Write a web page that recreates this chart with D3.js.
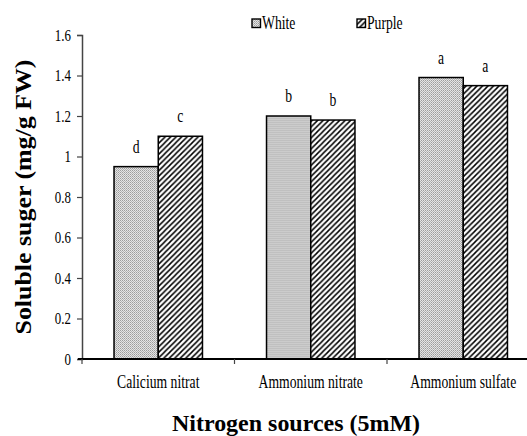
<!DOCTYPE html>
<html>
<head>
<meta charset="utf-8">
<script src="https://cdn.jsdelivr.net/npm/d3@7"></script>
<style>
  body { margin: 0; background: #fff; }
  text { font-family: "Liberation Serif", "Times New Roman", serif; fill: #000; }
</style>
</head>
<body>
<script>
//chart data
var categories = ["Calicium nitrat", "Ammonium nitrate", "Ammonium sulfate"];
var series = ["White", "Purple"];
var whiteValues = [0.95, 1.20, 1.39];
var purpleValues = [1.10, 1.18, 1.35];
var whiteLetters = ["d", "b", "a"];
var purpleLetters = ["c", "b", "a"];
var yTicks = [0, 0.2, 0.4, 0.6, 0.8, 1, 1.2, 1.4, 1.6];

window.onload = drawChart();

function drawChart(){

    var width = 527,
        height = 436,
        squeeze = 0.76; //narrow look of the original serif text

    var svg = d3.select("body")
        .append("svg")
        .attr("width", width)
        .attr("height", height);

    //patterns for the two series
    var defs = svg.append("defs");
    var dots = defs.append("pattern")
        .attr("id", "dots")
        .attr("patternUnits", "userSpaceOnUse")
        .attr("width", 2)
        .attr("height", 2);
    dots.append("rect").attr("width", 2).attr("height", 2).attr("fill", "#e4e4e4");
    dots.append("rect").attr("width", 1).attr("height", 1).attr("fill", "#9c9c9c");
    dots.append("rect").attr("x", 1).attr("y", 1).attr("width", 1).attr("height", 1).attr("fill", "#b4b4b4");

    var hatch = defs.append("pattern")
        .attr("id", "hatch")
        .attr("patternUnits", "userSpaceOnUse")
        .attr("width", 5.5)
        .attr("height", 5.5);
    hatch.append("rect").attr("width", 5.5).attr("height", 5.5).attr("fill", "#fff");
    hatch.append("path")
        .attr("d", "M0,5.5 L5.5,0 M-1,1 L1,-1 M4.5,6.5 L6.5,4.5")
        .attr("stroke", "#000")
        .attr("stroke-width", 1.5);

    var fills = {White: "url(#dots)", Purple: "url(#hatch)"};

    //scales
    var x0 = d3.scaleBand()
        .domain(categories)
        .range([82, 539.5]);

    var x1 = d3.scaleBand()
        .domain(series)
        .range([x0.bandwidth() * 0.21, x0.bandwidth() * 0.79]);

    var y = d3.scaleLinear()
        .domain([0, 1.6])
        .range([359, 35]);

    //y axis
    var yAxis = svg.append("g")
        .attr("transform", "translate(82,0)")
        .call(d3.axisLeft(y).tickValues(yTicks).tickSize(5).tickPadding(6)
            .tickFormat(function(d){ return String(d); }));
    yAxis.attr("font-family", null);
    yAxis.select(".domain").attr("stroke", "#444").attr("stroke-width", 1.5);
    yAxis.selectAll(".tick line").attr("stroke", "#444").attr("stroke-width", 1.2);
    yAxis.selectAll(".tick text")
        .attr("font-size", 17)
        .attr("fill", "#222")
        .attr("x", -11 / squeeze)
        .attr("transform", "scale(" + squeeze + ",1)");

    //bars
    var rows = categories.map(function(c, i){
        return [
            {cat: c, key: "White", value: whiteValues[i], letter: whiteLetters[i]},
            {cat: c, key: "Purple", value: purpleValues[i], letter: purpleLetters[i]}
        ];
    });

    var groups = svg.selectAll(".cat")
        .data(rows)
        .enter()
        .append("g")
        .attr("class", "cat")
        .attr("transform", function(d){ return "translate(" + x0(d[0].cat) + ",0)"; });

    groups.selectAll("rect")
        .data(function(d){ return d; })
        .enter()
        .append("rect")
        .attr("x", function(d){ return x1(d.key); })
        .attr("y", function(d){ return y(d.value); })
        .attr("width", x1.bandwidth())
        .attr("height", function(d){ return y(0) - y(d.value); })
        .attr("fill", function(d){ return fills[d.key]; })
        .attr("stroke", "#000")
        .attr("stroke-width", 1.5);

    //significance letters
    groups.selectAll(".letter")
        .data(function(d){ return d; })
        .enter()
        .append("text")
        .attr("class", "letter")
        .attr("font-size", 18)
        .attr("text-anchor", "middle")
        .attr("transform", function(d){
            return "translate(" + (x1(d.key) + x1.bandwidth() / 2) + "," + (y(d.value) - 14) + ") scale(" + squeeze + ",1)";
        })
        .text(function(d){ return d.letter; });

    //x axis line and ticks
    svg.append("line")
        .attr("x1", 78).attr("x2", width)
        .attr("y1", y(0)).attr("y2", y(0))
        .attr("stroke", "#000")
        .attr("stroke-width", 2);

    svg.selectAll(".xtick")
        .data(categories)
        .enter()
        .append("line")
        .attr("class", "xtick")
        .attr("x1", function(d){ return x0(d); })
        .attr("x2", function(d){ return x0(d); })
        .attr("y1", y(0))
        .attr("y2", y(0) + 5)
        .attr("stroke", "#444")
        .attr("stroke-width", 1.2);

    svg.selectAll(".xlabel")
        .data(categories)
        .enter()
        .append("text")
        .attr("class", "xlabel")
        .attr("font-size", 18)
        .attr("fill", "#222")
        .attr("text-anchor", "middle")
        .attr("transform", function(d){
            return "translate(" + (x0(d) + x0.bandwidth() / 2) + ",388) scale(" + squeeze + ",1)";
        })
        .text(function(d){ return d; });

    //axis titles
    svg.append("text")
        .attr("font-weight", "bold")
        .attr("font-size", 23)
        .attr("text-anchor", "middle")
        .attr("x", 296)
        .attr("y", 431)
        .attr("textLength", 248)
        .attr("lengthAdjust", "spacingAndGlyphs")
        .text("Nitrogen sources (5mM)");

    svg.append("text")
        .attr("font-weight", "bold")
        .attr("font-size", 24)
        .attr("text-anchor", "middle")
        .attr("transform", "translate(31,197) rotate(-90)")
        .attr("textLength", 275)
        .attr("lengthAdjust", "spacingAndGlyphs")
        .text("Soluble suger (mg/g FW)");

    //legend
    var legendX = d3.scaleOrdinal().domain(series).range([252, 357]);

    var legend = svg.selectAll(".legend")
        .data(series)
        .enter()
        .append("g")
        .attr("class", "legend")
        .attr("transform", function(d){ return "translate(" + legendX(d) + ",19)"; });

    legend.append("rect")
        .attr("width", 8.5)
        .attr("height", 8.5)
        .attr("fill", function(d){ return fills[d]; })
        .attr("stroke", "#000")
        .attr("stroke-width", 1.4);

    legend.append("text")
        .attr("font-size", 18)
        .attr("transform", "translate(10,10) scale(" + squeeze + ",1)")
        .text(function(d){ return d; });
}
</script>
</body>
</html>
